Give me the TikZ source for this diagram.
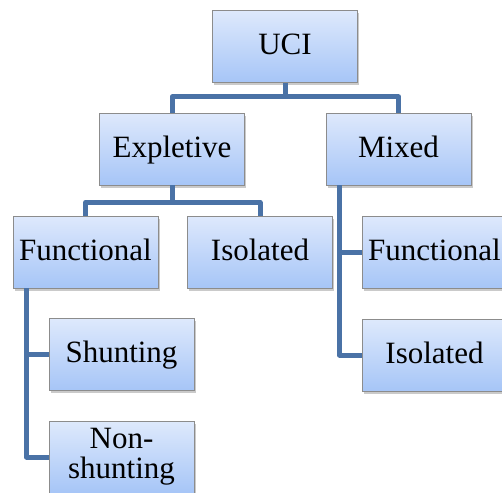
\documentclass[tikz,border=0pt]{standalone}
\usepackage{fontspec}
\setmainfont{Liberation Serif}
\usetikzlibrary{shadows,calc}
\definecolor{boxtop}{RGB}{222,233,252}
\definecolor{boxbot}{RGB}{166,197,247}
\definecolor{boxline}{RGB}{140,140,140}
\definecolor{conncol}{RGB}{74,114,166}
\tikzset{
  box/.style={draw=boxline, line width=0.8pt, top color=boxtop, bottom color=boxbot,
    minimum width=145pt, minimum height=72pt, inner sep=0pt, align=center,
    font=\fontsize{31}{30}\selectfont,
    drop shadow={shadow xshift=1.5pt, shadow yshift=-2.5pt, opacity=0.35, fill=black!60}},
  onebox/.style={box, text height=20pt, text depth=4pt},
  conn/.style={draw=conncol, line width=5pt, line join=round}
}
\begin{document}
\begin{tikzpicture}[x=1pt,y=-1pt]
\useasboundingbox (0,0) rectangle (502,492);
\node[onebox] (uci) at (285,46.5) {UCI};
\node[onebox] (expl) at (172,149) {Expletive};
\node[onebox] (mixed) at (398.5,149) {Mixed};
\node[onebox] (funcl) at (85.5,252) {Functional};
\node[onebox] (isom) at (260,252) {Isolated};
\node[onebox] (shunt) at (121.5,354.5) {Shunting};
\node[box] (nonsh) at (121.5,457) {Non-\\shunting};
\node[onebox] (funcr) at (434.5,252) {Functional};
\node[onebox] (isor) at (434.5,355) {Isolated};
% connectors
\draw[conn] (uci.south) -- ++(0,14) coordinate (j1);
\draw[conn] (expl.north) |- (j1) -| (mixed.north);
\draw[conn] (expl.south) -- ++(0,17) coordinate (j2);
\draw[conn] (funcl.north) |- (j2) -| (isom.north);
\coordinate (j3) at ($(funcl.south west)+(14,0)$);
\draw[conn] (j3) |- (shunt.west);
\draw[conn] (j3) |- (nonsh.west);
\coordinate (j4) at ($(mixed.south west)+(14,0)$);
\draw[conn] (j4) |- (funcr.west);
\draw[conn] (j4) |- (isor.west);
\end{tikzpicture}
\end{document}
